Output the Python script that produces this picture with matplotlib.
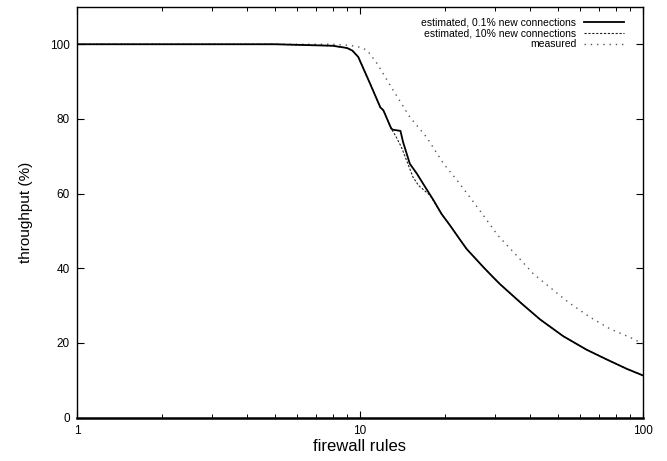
import matplotlib
matplotlib.use("Agg")
import matplotlib.pyplot as plt
from matplotlib.ticker import FixedLocator, NullFormatter

plt.rcParams["font.family"] = ["Liberation Sans", "DejaVu Sans"]

# estimated, 0.1% new connections
est_low_x = [1, 2, 5, 8, 9.0, 9.4, 9.86, 10.85, 11.8, 12.1, 12.9, 13.1, 13.9, 14.2,
             15.0, 15.9, 16.7, 18.2, 19.4, 20.8, 22.5, 23.8, 27.3, 29.2, 31.2, 37.2,
             43.3, 52.3, 63.2, 74.4, 87.5, 100]
est_low_y = [100, 100, 100, 99.6, 99.0, 98.3, 96.6, 89.5, 83.1, 82.3, 77.4, 77.1, 76.8, 73.8,
             68.0, 65.3, 62.7, 58.2, 54.6, 51.5, 47.8, 45.2, 40.3, 38.0, 35.8, 30.6,
             26.3, 21.8, 18.2, 15.6, 13.1, 11.3]

# estimated, 10% new connections
est_high_x = [1, 2, 5, 8, 9.0, 9.4, 9.86, 10.85, 11.8, 12.1, 12.9, 13.4, 14.0, 15.4,
              16.1, 17.7, 19.4, 20.8, 22.5, 23.8, 27.3, 29.2, 31.2, 37.2,
              43.3, 52.3, 63.2, 74.4, 87.5, 100]
est_high_y = [100, 100, 100, 99.6, 99.0, 98.3, 96.6, 89.5, 83.1, 82.3, 77.4, 75.3, 72.5, 64.4,
              62.2, 59.5, 54.6, 51.5, 47.8, 45.2, 40.3, 38.0, 35.8, 30.6,
              26.3, 21.8, 18.2, 15.6, 13.1, 11.3]

# measured
meas_x = [1, 2, 5, 8, 9.2, 10.0, 10.6, 11.5, 13.1, 15.0, 17.2, 19.7, 22.5, 26.5,
          30.7, 35.8, 41, 46.9, 54.5, 65, 76.4, 90, 100]
meas_y = [100, 100, 100, 100, 99.7, 99.2, 98.4, 94.8, 87.7, 80.5, 75.1, 68.1, 62.7, 55.5,
          48.8, 43.4, 38.5, 34.9, 30.9, 26.9, 23.8, 21.5, 19.8]

fig = plt.figure(figsize=(6.67, 4.61), dpi=100)
ax = fig.add_axes([0.1154, 0.094, 0.8486, 0.891])

ax.plot(est_low_x, est_low_y, color="black", linewidth=1.3,
        label="estimated, 0.1% new connections", zorder=3)
ax.plot(est_high_x, est_high_y, color="#222222", linewidth=0.8, linestyle=(0, (2, 1.5)),
        label="estimated, 10% new connections", zorder=2)
ax.plot(meas_x, meas_y, color="#555555", linewidth=1.0, linestyle=(0, (1, 3.5)),
        label="measured", zorder=2)

ax.set_xscale("log")
ax.set_xlim(1, 100)
ax.set_ylim(0, 110)
ax.xaxis.set_major_locator(FixedLocator([1, 10, 100]))
ax.set_xticklabels(["1", "10", "100"])
ax.xaxis.set_minor_locator(FixedLocator([2, 3, 4, 5, 6, 7, 8, 9, 20, 30, 40, 50, 60, 70, 80, 90]))
ax.xaxis.set_minor_formatter(NullFormatter())
ax.set_yticks([0, 20, 40, 60, 80, 100])

ax.tick_params(which="both", direction="in", top=True, right=True, labelsize=8.5, pad=5)
ax.tick_params(which="major", length=5, width=0.8)
ax.tick_params(which="minor", length=3, width=0.7)

for side in ["top", "left", "right"]:
    ax.spines[side].set_linewidth(1.0)
ax.spines["bottom"].set_linewidth(1.8)

ax.set_xlabel("firewall rules", fontsize=12, labelpad=2)
ax.set_ylabel("throughput (%)", fontsize=11, labelpad=12)

ax.legend(loc="upper right", frameon=False, markerfirst=False, fontsize=7.5,
          handlelength=3.8, labelspacing=0.1, handletextpad=0.8,
          borderaxespad=0.6, bbox_to_anchor=(0.985, 1.0))

fig.savefig("out.png", dpi=100)
